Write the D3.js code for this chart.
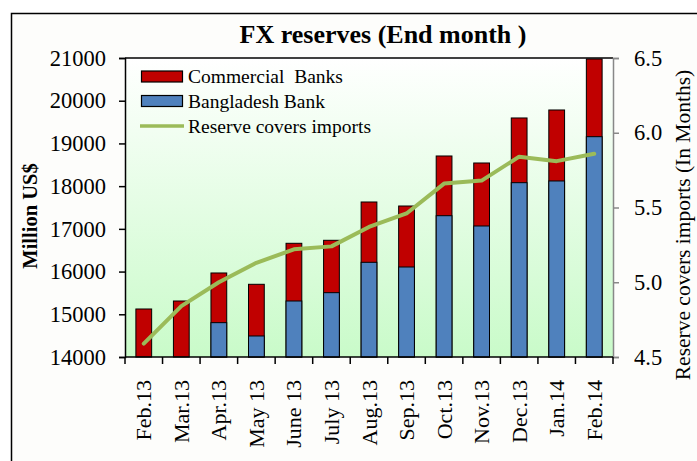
<!DOCTYPE html>
<html>
<head>
<meta charset="utf-8">
<script src="https://cdn.jsdelivr.net/npm/d3@7"></script>
<style>
  * { margin: 0; padding: 0; }
  body { background: #fff; width: 697px; height: 461px; overflow: hidden; }
  text { font-family: 'Liberation Serif', 'Times New Roman', serif; fill: #000; }
</style>
</head>
<body>
<div id="chart"></div>
<script>
// data
let months = ['Feb.13', 'Mar.13', 'Apr.13', 'May 13', 'June 13', 'July 13', 'Aug.13',
  'Sep.13', 'Oct.13', 'Nov.13', 'Dec.13', 'Jan.14', 'Feb.14'];
let bbReserve = [13900, 13950, 14804, 14492, 15311, 15506, 16217, 16107, 17308, 17067, 18081, 18121, 19158];
let totalReserve = [15124, 15311, 15967, 15702, 16662, 16732, 17629, 17535, 18706, 18542, 19596, 19783, 20977];
let importCover = [4.59, 4.84, 5.0, 5.13, 5.22, 5.24, 5.37, 5.46, 5.66, 5.68, 5.84, 5.81, 5.86];
let leftTicks = [14000, 15000, 16000, 17000, 18000, 19000, 20000, 21000];
let rightTicks = [4.5, 5.0, 5.5, 6.0, 6.5];

let W = 697, H = 461;
let margin = {top: 58, right: 84, bottom: 104, left: 125};
let width = W - margin.left - margin.right,
    height = H - margin.top - margin.bottom;

let svg = d3.select('#chart').append('svg')
  .attr('width', W).attr('height', H);

let defs = svg.append('defs');
let grad = defs.append('linearGradient').attr('id', 'bg')
  .attr('x1', 0).attr('y1', 0).attr('x2', 0).attr('y2', 1);
grad.append('stop').attr('offset', '0%').attr('stop-color', '#ffffff');
grad.append('stop').attr('offset', '100%').attr('stop-color', '#c9fbc9');

// outer frame
svg.append('rect')
  .attr('x', 11.5).attr('y', 13.5).attr('width', 700).attr('height', 460)
  .attr('fill', '#fdfdfb').attr('stroke', '#000').attr('stroke-width', 1.5);

svg.append('text')
  .attr('x', 383).attr('y', 42.5)
  .attr('text-anchor', 'middle')
  .attr('font-size', 26).attr('font-weight', 'bold')
  .text('FX reserves (End month )');

let g = svg.append('g').attr('transform', 'translate(' + margin.left + ',' + margin.top + ')');

let x = d3.scaleBand().domain(months).range([0, width]).paddingInner(0.58).paddingOuter(0.29);
let y = d3.scaleLinear().domain([14000, 21000]).range([height, 0]);
let y2 = d3.scaleLinear().domain([4.5, 6.5]).range([height, 0]);

g.append('rect').attr('width', width).attr('height', height).attr('fill', 'url(#bg)');

// stacked bars
let bars = g.append('g');
bars.selectAll('rect.cb')
  .data(months)
  .enter().append('rect')
  .attr('class', 'cb')
  .attr('x', d => x(d))
  .attr('width', x.bandwidth())
  .attr('y', (d, i) => y(totalReserve[i]))
  .attr('height', (d, i) => y(14000) - y(totalReserve[i]))
  .attr('fill', '#c00000')
  .attr('stroke', '#000').attr('stroke-width', 1);

bars.selectAll('rect.bb')
  .data(months.filter((d, i) => bbReserve[i] > 14000))
  .enter().append('rect')
  .attr('class', 'bb')
  .attr('x', d => x(d))
  .attr('width', x.bandwidth())
  .attr('y', d => y(bbReserve[months.indexOf(d)]))
  .attr('height', d => y(14000) - y(bbReserve[months.indexOf(d)]))
  .attr('fill', '#4f81bd')
  .attr('stroke', '#000').attr('stroke-width', 1);

// line
let line = d3.line()
  .x((d, i) => x(months[i]) + x.bandwidth() / 2)
  .y(d => y2(d));
g.append('path')
  .datum(importCover)
  .attr('d', line)
  .attr('fill', 'none')
  .attr('stroke', '#9bbb59')
  .attr('stroke-width', 4)
  .attr('stroke-linejoin', 'round')
  .attr('stroke-linecap', 'round');

// axes
let yAxis = g.append('g')
  .call(d3.axisLeft(y).tickValues(leftTicks).tickSize(6).tickPadding(13).tickFormat(d3.format('d')));
yAxis.select('.domain').attr('stroke', '#000').attr('stroke-width', 1.5);
yAxis.selectAll('.tick line').attr('stroke', '#000').attr('stroke-width', 1.5);
yAxis.selectAll('text').attr('font-size', 22.5).attr('font-family', "'Liberation Serif', serif");

g.append('line')
  .attr('x1', 0).attr('x2', width).attr('y1', 0).attr('y2', 0)
  .attr('stroke', '#000').attr('stroke-width', 1.5);

let y2Axis = g.append('g').attr('transform', 'translate(' + width + ',0)')
  .call(d3.axisRight(y2).tickValues(rightTicks).tickSize(6).tickPadding(15).tickFormat(d3.format('.1f')));
y2Axis.select('.domain').attr('stroke', '#888').attr('stroke-width', 1.5);
y2Axis.selectAll('.tick line').attr('stroke', '#888').attr('stroke-width', 1.5);
y2Axis.selectAll('text').attr('font-size', 22.5).attr('font-family', "'Liberation Serif', serif");

// bottom axis: ticks between categories
let step = x.step();
let xAxisG = g.append('g').attr('transform', 'translate(0,' + height + ')');
xAxisG.append('line').attr('x1', 0).attr('x2', width).attr('stroke', '#000').attr('stroke-width', 1.5);
xAxisG.selectAll('line.sep')
  .data(d3.range(months.length + 1))
  .enter().append('line')
  .attr('class', 'sep')
  .attr('x1', i => i * step).attr('x2', i => i * step)
  .attr('y1', 0).attr('y2', 7)
  .attr('stroke', '#000').attr('stroke-width', 1.5);
xAxisG.selectAll('text')
  .data(months)
  .enter().append('text')
  .attr('transform', d => 'translate(' + (x(d) + x.bandwidth() / 2 + 7.5) + ',23) rotate(-90)')
  .attr('text-anchor', 'end')
  .attr('font-size', 22)
  .text(d => d);

// axis titles
svg.append('text')
  .attr('transform', 'translate(37,216) rotate(-90)')
  .attr('text-anchor', 'middle')
  .attr('font-size', 20.5).attr('font-weight', 'bold')
  .text('Million US$');

svg.append('text')
  .attr('transform', 'translate(690,225) rotate(-90)')
  .attr('text-anchor', 'middle')
  .attr('font-size', 21.5)
  .text('Reserve covers imports (In Months)');

// legend
let legend = svg.append('g').attr('transform', 'translate(141,0)');
let legendItems = [
  {label: 'Commercial\u00a0 Banks', color: '#c00000', type: 'box', y: 76.5},
  {label: 'Bangladesh Bank', color: '#4f81bd', type: 'box', y: 101},
  {label: 'Reserve covers imports', color: '#9bbb59', type: 'line', y: 126}
];
legendItems.forEach(it => {
  if (it.type === 'box') {
    legend.append('rect')
      .attr('x', 0.5).attr('y', it.y - 5.5).attr('width', 41).attr('height', 11)
      .attr('fill', it.color).attr('stroke', '#000').attr('stroke-width', 1.2);
  } else {
    legend.append('line')
      .attr('x1', -1).attr('x2', 43).attr('y1', it.y).attr('y2', it.y)
      .attr('stroke', it.color).attr('stroke-width', 3.5);
  }
  legend.append('text')
    .attr('x', 47).attr('y', it.y + 6.8)
    .attr('font-size', 19.5)
    .text(it.label);
});
</script>
</body>
</html>
